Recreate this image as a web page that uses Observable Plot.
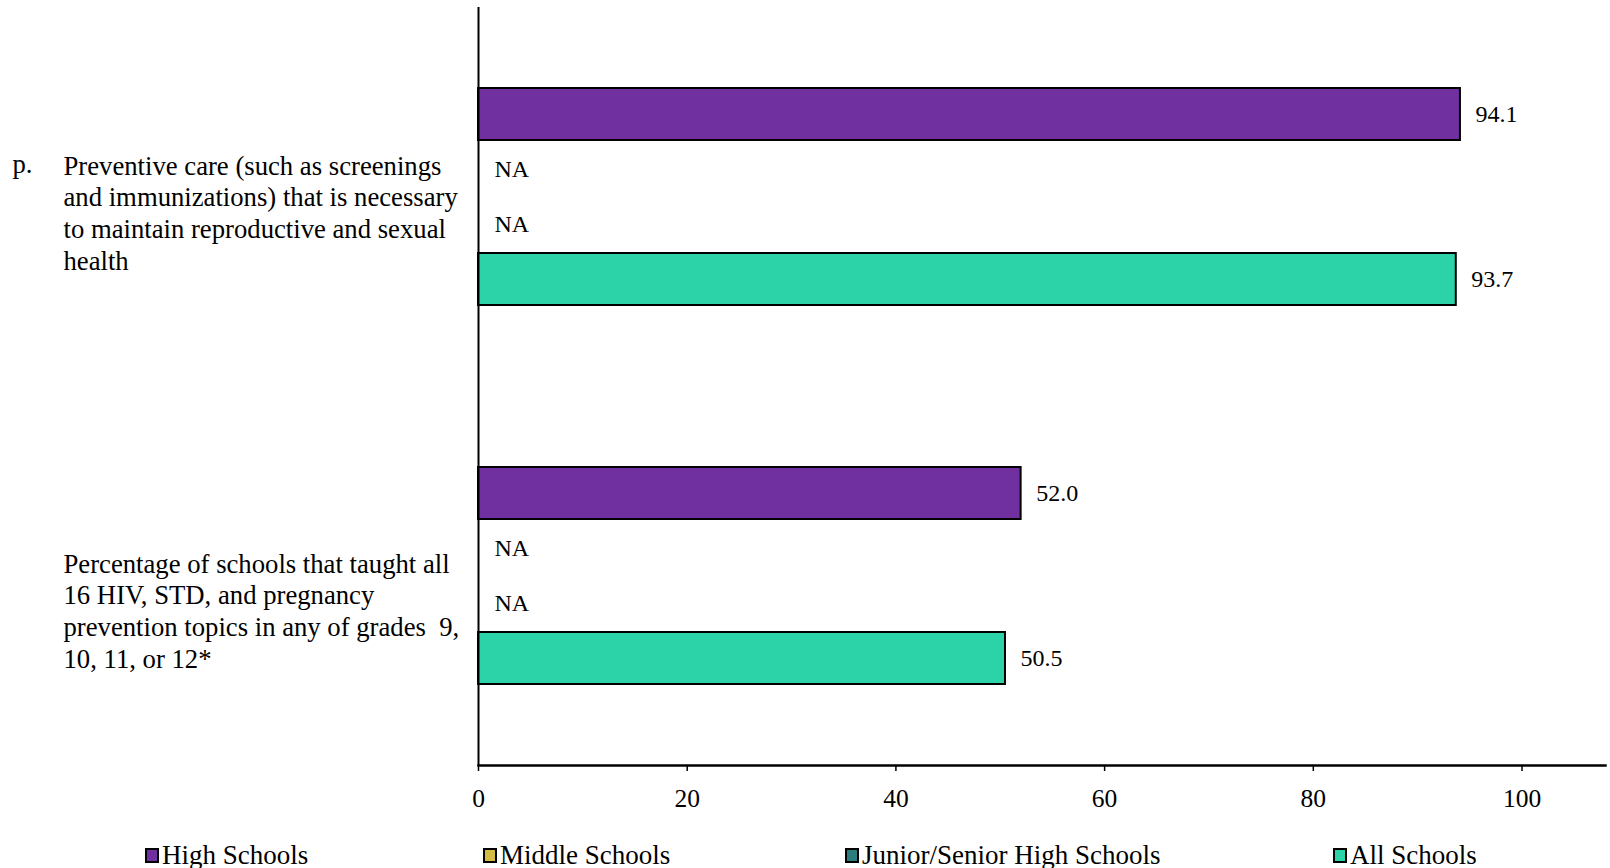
<!DOCTYPE html>
<html>
<head>
<meta charset="utf-8">
<script src="https://cdn.jsdelivr.net/npm/d3@7"></script>
<script src="https://cdn.jsdelivr.net/npm/@observablehq/plot@0.6"></script>
<style>
  html, body { margin: 0; padding: 0; background: #fff; }
  body { width: 1610px; height: 868px; overflow: hidden; font-family: "Liberation Serif", "Times New Roman", serif; color: #000; }
  #chart svg text { white-space: pre; }
  #legend { position: relative; width: 1610px; height: 46px; font-size: 27px; }
  #legend .item { position: absolute; top: 18px; height: 30px; display: flex; align-items: center; white-space: nowrap; }
  #legend .sw { box-sizing: border-box; width: 14px; height: 15px; border: 2px solid #000; margin-right: 3px; }
</style>
</head>
<body>
<div id="chart"></div>
<div id="legend"></div>
<script>
// ---- data ----
const questions = ["p", "all16"];
const questionLabels = [
  "Preventive care (such as screenings\nand immunizations) that is necessary\nto maintain reproductive and sexual\nhealth",
  "Percentage of schools that taught all\n16 HIV, STD, and pregnancy\nprevention topics in any of grades  9,\n10, 11, or 12*"
];
const questionPrefix = ["p.", ""];
const series = ["High Schools", "Middle Schools", "Junior/Senior High Schools", "All Schools"];
const seriesColors = ["#7030A0", "#D4BC44", "#2E7D7E", "#2DD3A8"];
const highSchools = [94.1, 52.0];
const middleSchools = [null, null];
const juniorSeniorHighSchools = [null, null];
const allSchools = [93.7, 50.5];
const xTicks = [0, 20, 40, 60, 80, 100];
const legendLeft = [145, 483, 845, 1333];

// ---- table ----
const valuesBySeries = [highSchools, middleSchools, juniorSeniorHighSchools, allSchools];
const rows = [];
questions.forEach((q, qi) => {
  series.forEach((s, si) => rows.push({q, series: s, value: valuesBySeries[si][qi]}));
});
const present = rows.filter(d => d.value != null);
const missing = rows.filter(d => d.value == null);
const labelRows = questions.map((q, i) => ({q, label: questionLabels[i], prefix: questionPrefix[i]}));

const FS_LABEL = 26.7, LH = 1.19;

const plot = Plot.plot({
  width: 1610,
  height: 822,
  marginLeft: 478,
  marginRight: 5,
  marginTop: 7,
  marginBottom: 57,
  style: { fontFamily: "Liberation Serif, Times New Roman, serif", fontSize: "25px", color: "#000", background: "#fff" },
  x: { domain: [0, 108], axis: null, label: null },
  y: { domain: series, paddingInner: 0.05, paddingOuter: 1.42, axis: null },
  fy: { domain: questions, padding: 0, axis: null },
  color: { domain: series, range: seriesColors },
  marks: [
    Plot.barX(present, { x: "value", y: "series", fy: "q", fill: "series", stroke: "#000", strokeWidth: 2 }),
    Plot.ruleX([0], { stroke: "#000", strokeWidth: 2 }),
    Plot.text(present, { x: "value", y: "series", fy: "q", text: d => d.value.toFixed(1), dx: 15, textAnchor: "start", fontSize: 24, fill: "#000" }),
    Plot.text(missing, { y: "series", fy: "q", frameAnchor: "left", text: () => "NA", dx: 16, textAnchor: "start", fontSize: 24, fill: "#000" }),
    Plot.text(labelRows.filter(d => d.q === questions[0]), { fy: "q", text: "label", frameAnchor: "left", textAnchor: "start", dx: -415, dy: 15, fontSize: FS_LABEL, lineHeight: LH, fill: "#000" }),
    Plot.text(labelRows.filter(d => d.q === questions[1]), { fy: "q", text: "label", frameAnchor: "left", textAnchor: "start", dx: -415, dy: 34, fontSize: FS_LABEL, lineHeight: LH, fill: "#000" }),
    Plot.text(labelRows.filter(d => d.prefix), { fy: "q", text: "prefix", frameAnchor: "left", textAnchor: "start", dx: -466, dy: 15 - 1.5 * LH * FS_LABEL, fontSize: FS_LABEL, fill: "#000" }),
    Plot.axisX({ ticks: xTicks, tickSize: 6, tickPadding: 17, fontSize: 25.5, stroke: "#000", strokeWidth: 1.5, fill: "#000", label: null }),
    Plot.frame({ anchor: "bottom", facetAnchor: "bottom", stroke: "#000", strokeWidth: 2.5 })
  ]
});
document.getElementById("chart").appendChild(plot);

// ---- legend ----
const legend = document.getElementById("legend");
series.forEach((s, i) => {
  const item = document.createElement("div");
  item.className = "item";
  item.style.left = legendLeft[i] + "px";
  const sw = document.createElement("span");
  sw.className = "sw";
  sw.style.background = seriesColors[i];
  const t = document.createElement("span");
  t.textContent = s;
  item.appendChild(sw);
  item.appendChild(t);
  legend.appendChild(item);
});
</script>
</body>
</html>
